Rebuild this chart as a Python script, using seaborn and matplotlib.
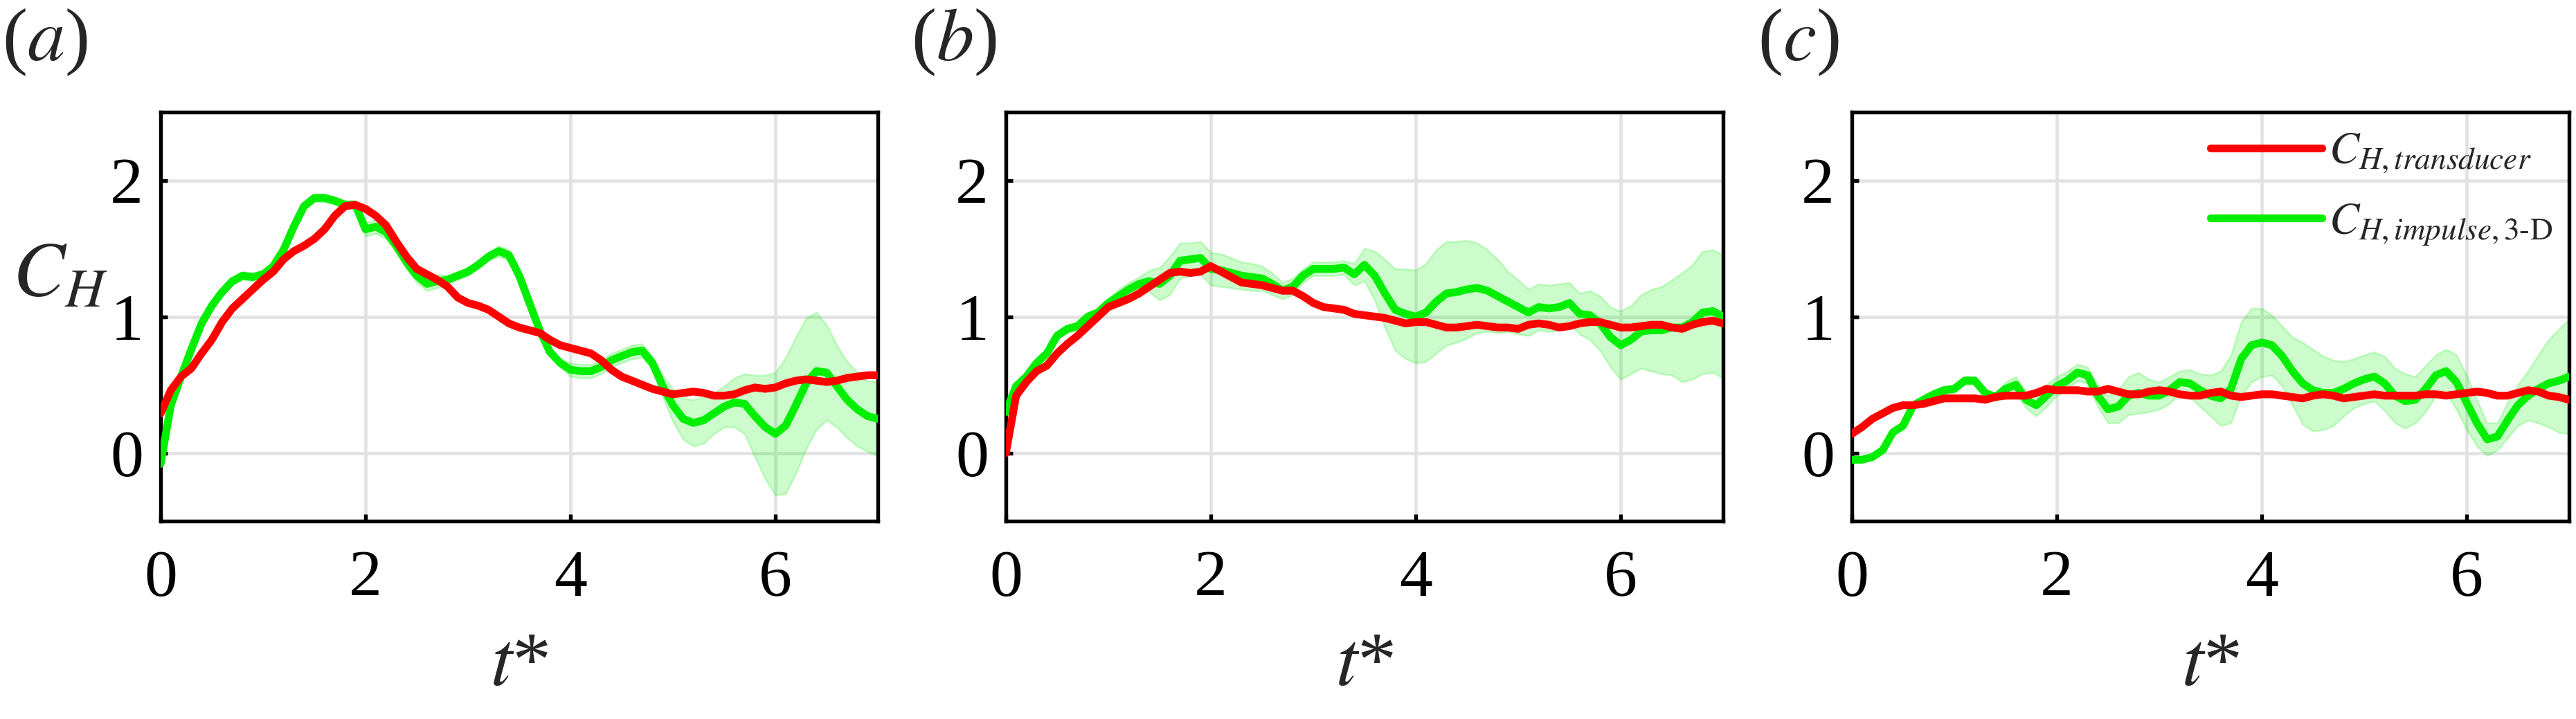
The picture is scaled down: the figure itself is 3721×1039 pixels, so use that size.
import numpy as np
import pandas as pd
import matplotlib
matplotlib.use("Agg")
import matplotlib.pyplot as plt
import seaborn as sns

sns.set_theme(style="white")
plt.rcParams['font.family'] = ['Liberation Serif', 'DejaVu Serif']
plt.rcParams['mathtext.fontset'] = 'stix'

# time grid t* = 0, 0.1, ..., 7.0
t = np.round(np.arange(0, 7.01, 0.1), 1)

# panel (a)
a_trans = [0.29, 0.46, 0.56, 0.62, 0.73, 0.83, 0.96, 1.06, 1.13, 1.20,
           1.27, 1.33, 1.42, 1.48, 1.52, 1.57, 1.64, 1.74, 1.81, 1.82,
           1.79, 1.74, 1.67, 1.55, 1.44, 1.35, 1.31, 1.27, 1.22, 1.14,
           1.10, 1.08, 1.05, 1.00, 0.95, 0.92, 0.90, 0.88, 0.83, 0.79,
           0.77, 0.75, 0.73, 0.68, 0.61, 0.56, 0.53, 0.50, 0.47, 0.45,
           0.43, 0.44, 0.45, 0.44, 0.42, 0.42, 0.43, 0.46, 0.48, 0.47,
           0.48, 0.51, 0.53, 0.54, 0.53, 0.52, 0.53, 0.55, 0.56, 0.57,
           0.57]
a_imp = [-0.08, 0.35, 0.56, 0.76, 0.95, 1.08, 1.18, 1.26, 1.30, 1.29,
         1.31, 1.37, 1.49, 1.66, 1.81, 1.87, 1.87, 1.85, 1.82, 1.82,
         1.64, 1.66, 1.62, 1.52, 1.40, 1.30, 1.24, 1.26, 1.27, 1.30,
         1.33, 1.38, 1.44, 1.48, 1.45, 1.30, 1.10, 0.90, 0.74, 0.66,
         0.61, 0.60, 0.60, 0.63, 0.68, 0.71, 0.74, 0.75, 0.66, 0.49,
         0.35, 0.25, 0.22, 0.24, 0.29, 0.34, 0.37, 0.36, 0.27, 0.19,
         0.14, 0.20, 0.35, 0.51, 0.60, 0.59, 0.49, 0.39, 0.32, 0.27,
         0.25]
a_spread = [0.03] * 20 + \
           [0.05, 0.05, 0.05, 0.05, 0.05, 0.05, 0.05, 0.05, 0.03, 0.03,
            0.03, 0.03, 0.03, 0.04, 0.04, 0.04, 0.03, 0.03, 0.03, 0.03,
            0.05, 0.05, 0.05, 0.05, 0.05, 0.05, 0.05, 0.05, 0.05, 0.08,
            0.12, 0.15, 0.17, 0.17, 0.15, 0.15, 0.18, 0.22, 0.30, 0.38,
            0.45, 0.50, 0.50, 0.48, 0.43, 0.35, 0.30, 0.28, 0.27, 0.26,
            0.27]

# panel (b)
b_trans = [0.00, 0.42, 0.52, 0.60, 0.64, 0.73, 0.80, 0.86, 0.93, 1.00,
           1.07, 1.10, 1.13, 1.17, 1.22, 1.27, 1.32, 1.33, 1.32, 1.33,
           1.37, 1.33, 1.29, 1.25, 1.24, 1.23, 1.21, 1.19, 1.19, 1.15,
           1.10, 1.07, 1.06, 1.05, 1.02, 1.01, 1.00, 0.99, 0.97, 0.95,
           0.96, 0.96, 0.94, 0.92, 0.92, 0.93, 0.94, 0.93, 0.92, 0.92,
           0.91, 0.94, 0.95, 0.94, 0.92, 0.93, 0.95, 0.96, 0.96, 0.94,
           0.92, 0.92, 0.93, 0.94, 0.94, 0.92, 0.91, 0.94, 0.96, 0.97,
           0.95]
b_imp = [0.30, 0.49, 0.56, 0.66, 0.73, 0.86, 0.91, 0.93, 1.00, 1.03,
         1.10, 1.15, 1.20, 1.24, 1.26, 1.24, 1.30, 1.41, 1.42, 1.43,
         1.35, 1.34, 1.32, 1.30, 1.29, 1.28, 1.24, 1.19, 1.22, 1.30,
         1.35, 1.35, 1.35, 1.36, 1.31, 1.38, 1.30, 1.17, 1.05, 1.02,
         1.00, 1.03, 1.11, 1.17, 1.18, 1.20, 1.21, 1.19, 1.15, 1.11,
         1.07, 1.03, 1.07, 1.06, 1.07, 1.10, 1.02, 1.01, 0.95, 0.85,
         0.79, 0.83, 0.89, 0.90, 0.90, 0.92, 0.92, 0.96, 1.03, 1.04,
         1.00]
b_spread = [0.03] * 10 + \
           [0.03, 0.05, 0.05, 0.05, 0.08, 0.12, 0.14, 0.13, 0.12, 0.12,
            0.12, 0.12, 0.11, 0.10, 0.10, 0.09, 0.08, 0.06, 0.06, 0.05,
            0.05, 0.05, 0.05, 0.05, 0.08, 0.12, 0.18, 0.25, 0.30, 0.33,
            0.34, 0.36, 0.38, 0.38, 0.37, 0.36, 0.33, 0.30, 0.27, 0.22,
            0.20, 0.17, 0.17, 0.17, 0.17, 0.15, 0.15, 0.18, 0.20, 0.22,
            0.25, 0.25, 0.27, 0.30, 0.32, 0.35, 0.40, 0.42, 0.45, 0.45,
            0.45]

# panel (c)
c_trans = [0.14, 0.19, 0.25, 0.29, 0.33, 0.35, 0.35, 0.36, 0.38, 0.40,
           0.40, 0.40, 0.40, 0.39, 0.41, 0.42, 0.42, 0.42, 0.44, 0.47,
           0.46, 0.46, 0.46, 0.45, 0.45, 0.47, 0.45, 0.43, 0.43, 0.45,
           0.46, 0.45, 0.43, 0.42, 0.42, 0.44, 0.45, 0.42, 0.41, 0.42,
           0.43, 0.43, 0.42, 0.41, 0.40, 0.42, 0.43, 0.42, 0.40, 0.41,
           0.42, 0.43, 0.42, 0.42, 0.42, 0.42, 0.43, 0.43, 0.42, 0.43,
           0.44, 0.45, 0.44, 0.42, 0.42, 0.44, 0.46, 0.45, 0.42, 0.41,
           0.39]
c_imp = [-0.05, -0.05, -0.03, 0.02, 0.15, 0.20, 0.35, 0.39, 0.43, 0.46,
         0.47, 0.53, 0.53, 0.44, 0.41, 0.47, 0.50, 0.39, 0.35, 0.42,
         0.49, 0.53, 0.59, 0.57, 0.42, 0.32, 0.34, 0.42, 0.44, 0.42,
         0.42, 0.46, 0.52, 0.51, 0.46, 0.42, 0.40, 0.47, 0.69, 0.79,
         0.81, 0.79, 0.71, 0.60, 0.51, 0.46, 0.44, 0.44, 0.47, 0.51,
         0.54, 0.56, 0.51, 0.42, 0.38, 0.39, 0.47, 0.57, 0.60, 0.52,
         0.37, 0.22, 0.10, 0.12, 0.24, 0.35, 0.42, 0.47, 0.51, 0.53,
         0.56]
c_spread = [0.02, 0.02, 0.02, 0.02, 0.02, 0.02, 0.03, 0.03, 0.03, 0.03,
            0.03, 0.03, 0.03, 0.03, 0.03, 0.05, 0.06, 0.06, 0.08, 0.08,
            0.07, 0.07, 0.06, 0.06, 0.08, 0.10, 0.12, 0.14, 0.15, 0.12,
            0.10, 0.10, 0.08, 0.10, 0.12, 0.15, 0.20, 0.25, 0.27, 0.27,
            0.25, 0.22, 0.22, 0.25, 0.30, 0.30, 0.27, 0.24, 0.20, 0.18,
            0.18, 0.18, 0.20, 0.20, 0.20, 0.17, 0.17, 0.15, 0.16, 0.20,
            0.20, 0.17, 0.12, 0.10, 0.13, 0.15, 0.18, 0.25, 0.32, 0.38,
            0.42]

panels = [("a", a_trans, a_imp, a_spread),
          ("b", b_trans, b_imp, b_spread),
          ("c", c_trans, c_imp, c_spread)]

W, H = 3721, 1039
fig = plt.figure(figsize=(W / 300, H / 300), dpi=300)

lefts = [232, 1453, 2675]
label_x = [3, 1316, 2539]
red = '#ff0000'
green = '#00ee00'

for i, (tag, trans, imp, spread) in enumerate(panels):
    ax = fig.add_axes([lefts[i] / W, 1 - 753 / H, 1036 / W, 591 / H])
    df = pd.DataFrame({'t': t, 'trans': trans, 'imp': imp, 'sd': spread})
    lo = df['imp'] - df['sd']
    hi = df['imp'] + df['sd']
    ax.fill_between(df['t'], lo, hi, facecolor=green, alpha=0.2,
                    edgecolor=green, linewidth=0.6, zorder=2)
    sns.lineplot(data=df, x='t', y='imp', ax=ax, color=green, linewidth=2.7,
                 label='$C_{H,impulse,\\mathrm{3\u2010D}}$', zorder=3)
    sns.lineplot(data=df, x='t', y='trans', ax=ax, color=red, linewidth=2.7,
                 label=r'$C_{H,transducer}$', zorder=4)

    ax.set_xlim(0, 7)
    ax.set_ylim(-0.5, 2.5)
    ax.set_xticks([0, 2, 4, 6])
    ax.set_yticks([0, 1, 2])
    ax.grid(True, color='#e2e2e2', linewidth=1.1, zorder=0)
    ax.set_axisbelow(True)
    for s in ax.spines.values():
        s.set_color('black')
        s.set_linewidth(1.3)
    ax.tick_params(direction='in', length=2.5, width=1.3, labelsize=23,
                   left=True, bottom=True, top=False, right=False,
                   colors='black')
    ax.tick_params(axis='x', pad=10)
    ax.tick_params(axis='y', pad=6)
    ax.set_xlabel('')
    ax.set_ylabel('')
    ax.text(0.5, -0.355, r'$t$*', fontsize=27, transform=ax.transAxes,
            ha='center', va='center')
    if i == 0:
        ax.text(-0.14, 0.595, r'$C_H$', fontsize=27, transform=ax.transAxes,
                ha='center', va='center')

    if i == 2:
        h, l = ax.get_legend_handles_labels()
        ax.legend(h[::-1], l[::-1], loc='upper left', bbox_to_anchor=(0.475, 0.995),
                  frameon=False, fontsize=15.5, handlelength=2.5,
                  handletextpad=0.15, labelspacing=0.6, borderaxespad=0)
    else:
        ax.get_legend().remove()

    fig.text(label_x[i] / W, 1 - 10 / H, '($' + tag + '$)', fontsize=26,
             ha='left', va='top')

fig.savefig('out.png', dpi=300)
